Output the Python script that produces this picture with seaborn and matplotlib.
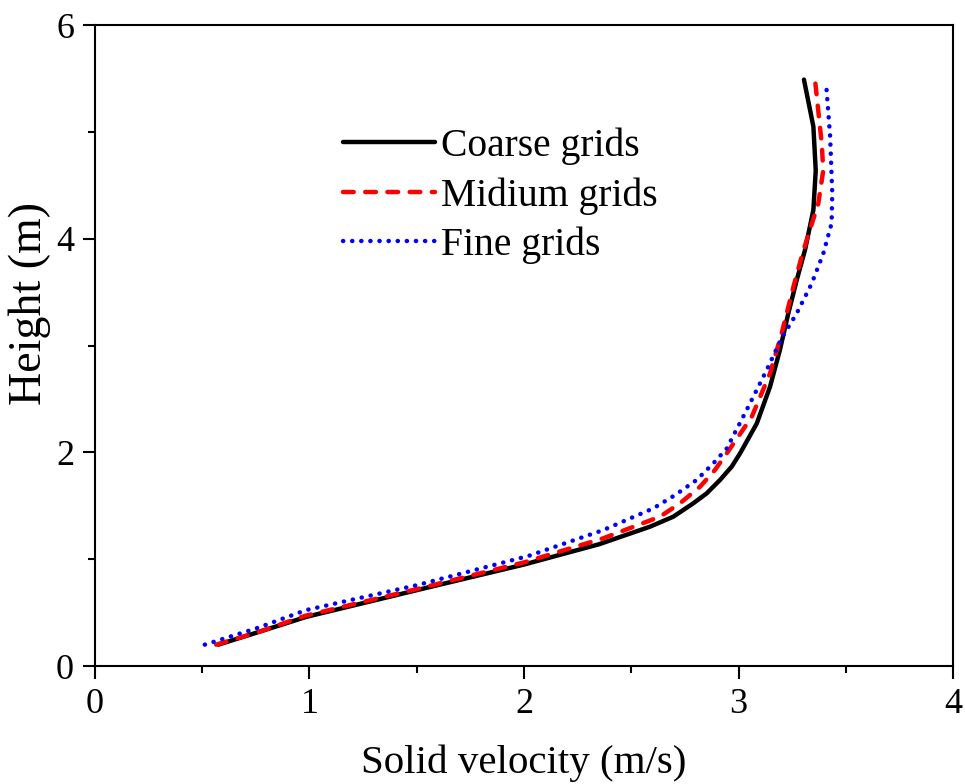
import matplotlib
matplotlib.use("Agg")
import matplotlib.pyplot as plt
import seaborn as sns
import pandas as pd
from matplotlib.ticker import MultipleLocator

# Data (velocity in m/s, height in m)
coarse_h = [0.2, 0.31, 0.46, 0.71, 0.95, 1.14, 1.304, 1.398, 1.523, 1.617, 1.742, 1.866, 1.99, 2.27, 2.615, 2.96, 3.30, 3.61, 3.895, 4.27, 4.64, 5.05, 5.49]
coarse_v = [0.575, 0.75, 0.985, 1.50, 2.00, 2.35, 2.587, 2.696, 2.789, 2.852, 2.914, 2.968, 3.007, 3.085, 3.147, 3.193, 3.232, 3.271, 3.31, 3.349, 3.36, 3.349, 3.305]

medium_h = [0.2, 0.31, 0.47, 0.72, 0.97, 1.196, 1.398, 1.523, 1.679, 1.835, 1.99, 2.33, 2.74, 3.115, 3.55, 3.83, 3.99, 4.33, 4.64, 4.89, 5.48]
medium_v = [0.565, 0.75, 0.98, 1.50, 2.00, 2.37, 2.634, 2.727, 2.821, 2.89, 2.945, 3.061, 3.147, 3.201, 3.256, 3.294, 3.318, 3.372, 3.395, 3.388, 3.357]

fine_h = [0.2, 0.353, 0.524, 0.758, 1.03, 1.273, 1.476, 1.60, 1.742, 1.898, 2.036, 2.397, 2.77, 3.07, 3.30, 3.58, 3.86, 4.145, 4.43, 4.96, 5.46]
fine_v = [0.512, 0.753, 0.985, 1.503, 2.02, 2.37, 2.603, 2.704, 2.805, 2.883, 2.945, 3.038, 3.131, 3.201, 3.271, 3.341, 3.395, 3.434, 3.437, 3.427, 3.408]

labels = ["Coarse grids", "Midium grids", "Fine grids"]

sns.set_theme(style="white")
plt.rcParams['font.family'] = ['Liberation Serif', 'DejaVu Serif']
plt.rcParams['text.color'] = 'black'
plt.rcParams['axes.labelcolor'] = 'black'
plt.rcParams['xtick.color'] = 'black'
plt.rcParams['ytick.color'] = 'black'

fig = plt.figure(figsize=(9.65, 7.84), dpi=100)
ax = fig.add_axes([0.0984, 0.1505, 0.8892, 0.8175])

lw = 3.2
d1 = pd.DataFrame({"v": coarse_v, "h": coarse_h})
d2 = pd.DataFrame({"v": medium_v, "h": medium_h})
d3 = pd.DataFrame({"v": fine_v, "h": fine_h})

sns.lineplot(data=d1, x="v", y="h", sort=False, estimator=None, ax=ax,
             color="black", linewidth=lw, label=labels[0],
             solid_capstyle='round', solid_joinstyle='round')
sns.lineplot(data=d2, x="v", y="h", sort=False, estimator=None, ax=ax,
             color="#ff0000", linewidth=lw, label=labels[1],
             linestyle=(0, (2.4, 2.6)), dash_capstyle='round', dash_joinstyle='round')
sns.lineplot(data=d3, x="v", y="h", sort=False, estimator=None, ax=ax,
             color="#0000ff", linewidth=lw, label=labels[2],
             linestyle=(0, (0.05, 2.0)), dash_capstyle='round')

ax.set_xlim(0, 4)
ax.set_ylim(0, 6)
ax.xaxis.set_major_locator(MultipleLocator(1))
ax.xaxis.set_minor_locator(MultipleLocator(0.5))
ax.yaxis.set_major_locator(MultipleLocator(2))
ax.yaxis.set_minor_locator(MultipleLocator(1))
ax.tick_params(which='both', direction='out', bottom=True, left=True, top=False, right=False,
               width=1.5, colors='black')
ax.tick_params(which='major', length=9, labelsize=26)
ax.tick_params(axis='x', which='major', pad=7)
ax.tick_params(axis='y', which='major', pad=6)
ax.tick_params(which='minor', length=5)
for s in ax.spines.values():
    s.set_visible(True)
    s.set_color('black')
    s.set_linewidth(1.5)

ax.set_xlabel("Solid velocity (m/s)", fontsize=29.5)
ax.xaxis.set_label_coords(0.5, -0.181, transform=ax.transAxes)
ax.xaxis.label.set_va('bottom')
ax.set_ylabel("Height (m)", fontsize=33)
ax.yaxis.set_label_coords(-0.051, 0.565, transform=ax.transAxes)

leg = ax.legend(loc='upper left', bbox_to_anchor=(0.289, 0.840), frameon=False,
                fontsize=28.5, handlelength=2.32, handletextpad=0.15,
                borderpad=0, borderaxespad=0, labelspacing=0.3)

fig.savefig("out.png", dpi=100)
